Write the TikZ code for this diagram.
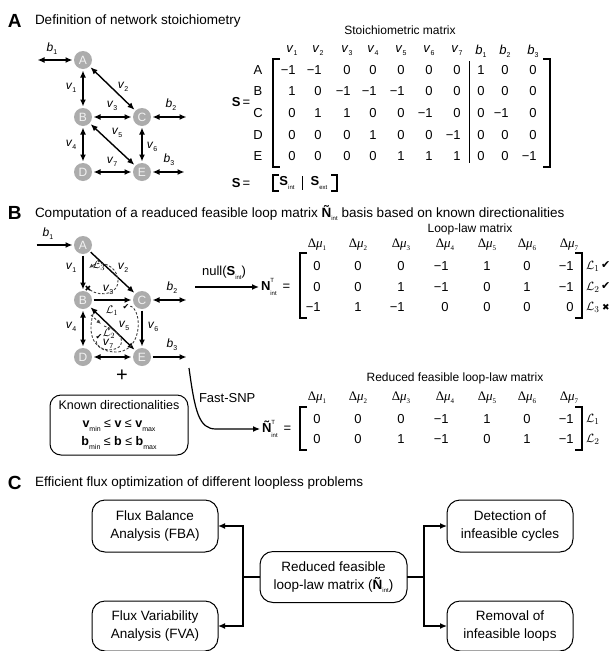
\documentclass[tikz,border=0pt]{standalone}
\usepackage{fontspec}
\setmainfont{Liberation Sans}
\newfontfamily\serifff{Liberation Serif}
\newfontfamily\dejavu{DejaVu Sans}
\usetikzlibrary{arrows.meta}
\newcommand\fs[1]{\fontsize{#1}{#1}\selectfont}
\newcommand\ssub[1]{\raisebox{-0.45ex}{\fs{7}#1}}
\newcommand\vv[1]{\textit{v}\ssub{#1}}
\newcommand\bb[1]{\textit{b}\ssub{#1}}
\newcommand\dmu[1]{{\serifff Δ\textit{μ}\raisebox{-0.45ex}{\fs{7}#1}}}
\newcommand\LL[1]{$\mathcal{L}_{#1}$}
\newcommand\TI{\makebox[0pt][l]{\raisebox{1.25ex}{\fs{6}T}}\raisebox{-0.7ex}{\fs{6}int}}
\newcommand\intsub{\raisebox{-0.5ex}{\fs{6}int}}
\newcommand\chk{{\dejavu ✔}}
\newcommand\crs{{\dejavu ✖}}
\begin{document}
\begin{tikzpicture}[x=1pt,y=-1pt,
  every node/.style={inner sep=0pt,outer sep=0pt},
  >={Latex[length=7pt,width=6pt]},
  edge/.style={line width=1.4pt,shorten >=1.5pt,shorten <=1.5pt},
  met/.style={circle,fill=gray!65,text=gray!10,minimum size=18pt,font=\fs{12}},
  lab/.style={font=\fs{12}},
  num/.style={font=\fs{13}},
  hdr/.style={font=\fs{13}},
  ttl/.style={font=\fs{13.5},anchor=west},
  letter/.style={font=\bfseries\fs{19},anchor=west},
  brk/.style={line width=1.3pt},
  loopd/.style={line width=0.9pt,dash pattern=on 2.5pt off 1.8pt,black!75},
  cbox/.style={draw,line width=1pt,rounded corners=13pt,minimum width=126pt,minimum height=52pt,align=center,font=\fontsize{13.5}{18}\selectfont},
  conn/.style={line width=1.3pt}]
\fill[white] (0,0) rectangle (613,651);
\useasboundingbox (0,0) rectangle (613,651);

% ---------------- Panel A ----------------
\node[letter] (lA) at (8,21) {A};
\node[ttl] (tA) at (35,21) {Definition of network stoichiometry};

\node[met] (aA) at (83,60) {A};
\node[met] (aB) at (83,117) {B};
\node[met] (aC) at (142,117) {C};
\node[met] (aD) at (83,172) {D};
\node[met] (aE) at (142,172) {E};
\coordinate (ab1) at (36,60);
\coordinate (ab2) at (188,117);
\coordinate (ab3) at (186,172);
\draw[edge,<->] (ab1) -- (aA);
\draw[edge,<->] (aA) -- (aB);
\draw[edge,<->] (aA) -- (aC);
\draw[edge,<->] (aB) -- (aC);
\draw[edge,<->] (aC) -- (ab2);
\draw[edge,<->] (aB) -- (aD);
\draw[edge,<->] (aB) -- (aE);
\draw[edge,<->] (aC) -- (aE);
\draw[edge,<->] (aD) -- (aE);
\draw[edge,<->] (aE) -- (ab3);
\node[lab] (lab1) at (52,49) {\bb1};
\node[lab] (lav1) at (71,88) {\vv1};
\node[lab] (lav2) at (123,87) {\vv2};
\node[lab] (lav3) at (112,106) {\vv3};
\node[lab] (lab2) at (171,105) {\bb2};
\node[lab] (lav4) at (71,145) {\vv4};
\node[lab] (lav5) at (117,133) {\vv5};
\node[lab] (lav6) at (152,147) {\vv6};
\node[lab] (lav7) at (112,162) {\vv7};
\node[lab] (lab3) at (169,160) {\bb3};

\node[font=\fs{12}] (stt) at (400,30) {Stoichiometric matrix};
\foreach \t [count=\j] in {\vv1,\vv2,\vv3,\vv4,\vv5,\vv6,\vv7,\bb1,\bb2,\bb3}{
  \pgfmathsetmacro\xx{{292,318,347,373,401,429,457,481,505,533}[\j-1]}
  \node[hdr] (sh-\j) at (\xx,51) {\t};
}
\foreach \t [count=\i] in {A,B,C,D,E}{
  \pgfmathsetmacro\yy{{70,91,113,135,156}[\i-1]}
  \node[num] (sr-\i) at (258,\yy) {\t};
}
\foreach \rw [count=\i] in {{−1,−1,0,0,0,0,0,1,0,0},{1,0,−1,−1,−1,0,0,0,0,0},{0,1,1,0,0,−1,0,0,−1,0},{0,0,0,1,0,0,−1,0,0,0},{0,0,0,0,1,1,1,0,0,−1}}{
  \pgfmathsetmacro\yy{{70,91,113,135,156}[\i-1]}
  \foreach \v [count=\j] in \rw {
    \pgfmathsetmacro\xx{{292,318,347,373,401,429,457,481,505,533}[\j-1]}
    \node[num,anchor=east] (sa-\i-\j) at (\xx+3.6,\yy) {\v};
  }
}
\draw[brk] (280,59) -- (273,59) -- (273,167) -- (280,167);
\draw[brk] (543,59) -- (550,59) -- (550,167) -- (543,167);
\draw[line width=1pt] (469,61) -- (469,163);
\node[font=\fs{13}] (seq) at (241,102) {\textbf{S}\,=};
\node[font=\fs{13}] (seq2) at (241,183) {\textbf{S}\,=};
\draw[brk] (279,175) -- (273,175) -- (273,191) -- (279,191);
\draw[brk] (331,175) -- (337,175) -- (337,191) -- (331,191);
\draw[line width=0.8pt] (302,176) -- (302,190);
\node[font=\fs{13}] (sint) at (287,183) {\textbf{S}\intsub};
\node[font=\fs{13}] (sext) at (319,183) {\textbf{S}\raisebox{-0.5ex}{\fs{6}ext}};

% ---------------- Panel B ----------------
\node[letter] (lB) at (8,213) {B};
\node[ttl] (tB) at (35,213) {Computation of a readuced feasible loop matrix \textbf{Ñ}\intsub\ basis based on known directionalities};

\node[met] (bA) at (83,245) {A};
\node[met] (bB) at (83,300) {B};
\node[met] (bC) at (142,300) {C};
\node[met] (bD) at (83,357) {D};
\node[met] (bE) at (142,357) {E};
\coordinate (bb1) at (35,245);
\coordinate (bb2) at (188,300);
\coordinate (bb3) at (188,357);
\draw[edge,->] (bb1) -- (bA);
\draw[edge,->] (bA) -- (bB);
\draw[edge,->] (bA) -- (bC);
\draw[edge,->] (bB) -- (bC);
\draw[edge,<->] (bC) -- (bb2);
\draw[edge,<->] (bB) -- (bD);
\draw[edge,<->] (bB) -- (bE);
\draw[edge,->] (bC) -- (bE);
\draw[edge,<->] (bD) -- (bE);
\draw[edge,->] (bE) -- (bb3);
\node[lab] (lbb1) at (48,234) {\bb1};
\node[lab] (lbv1) at (71,268) {\vv1};
\node[lab] (lbv2) at (123,268) {\vv2};
\node[lab] (lbv3) at (108,290) {\vv3};
\node[lab] (lbb2) at (172,288) {\bb2};
\node[lab] (lbv4) at (71,327) {\vv4};
\node[lab] (lbv5) at (124,326) {\vv5};
\node[lab] (lbv6) at (153,327) {\vv6};
\node[lab] (lbv7) at (108,344) {\vv7};
\node[lab] (lbb3) at (172,345) {\bb3};
% loops
\draw[loopd,-{Latex[length=4.5pt,width=4pt]}] (90,290) .. controls (102,298) and (120,293) .. (118,279) .. controls (116,265) and (100,260) .. (89,268);
\node[font=\fs{8}] (x3) at (88,289) {\crs};
\node[font=\fs{11}] (L3) at (99,266) {\LL3};
\draw[loopd] (93,314) .. controls (86,340) and (98,352) .. (116,352) .. controls (136,352) and (141,328) .. (137,315) .. controls (135,308) and (132,306) .. (129,306);
\node[font=\fs{8}] (c1) at (126,307) {\chk};
\node[font=\fs{11}] (L1) at (112,311) {\LL1};
\draw[loopd,-{Latex[length=4.5pt,width=4pt]}] (91,315) -- (101,324);
\draw[loopd] (104,326) .. controls (118,330) and (126,340) .. (119,347) .. controls (110,353) and (97,349) .. (96,341);
\node[font=\fs{8}] (c2) at (99,337) {\chk};
\node[font=\fs{11}] (L2) at (109,334) {\LL2};
\node[font=\fs{20}] (plus) at (122,376) {+};

\node[draw,line width=1pt,rounded corners=11pt,minimum width=138pt,minimum height=60pt,align=center,font=\fontsize{12.5}{18}\selectfont] (known) at (119,425)
  {Known directionalities\\ \textbf{v}\raisebox{-0.5ex}{\fs{7}min} ≤ \textbf{v} ≤ \textbf{v}\raisebox{-0.5ex}{\fs{7}max}\\ \textbf{b}\raisebox{-0.5ex}{\fs{7}min} ≤ \textbf{b} ≤ \textbf{b}\raisebox{-0.5ex}{\fs{7}max}};

% null arrow and N
\coordinate (ns) at (195,287);
\node[font=\fs{13},anchor=west] (nT) at (261,287) {\textbf{N}\TI\hspace{6pt}=};
\draw[line width=1.3pt,->,shorten >=2pt] (ns) -- (nT.west);
\node[font=\fs{13}] (nulll) at (224,273) {null(\textbf{S}\intsub)};
\node[font=\fs{12}] (llt) at (470,229) {Loop-law matrix};
\foreach \j in {1,...,7}{
  \pgfmathsetmacro\xx{{317,358,401,445,487,527,569}[\j-1]}
  \node[hdr] (nh-\j) at (\xx,245) {\dmu{\j}};
  \node[hdr] (rh-\j) at (\xx,398) {\dmu{\j}};
}
\foreach \rw [count=\i] in {{0,0,0,−1,1,0,−1},{0,0,1,−1,0,1,−1},{−1,1,−1,0,0,0,0}}{
  \pgfmathsetmacro\yy{{266,287,307}[\i-1]}
  \foreach \v [count=\j] in \rw {
    \pgfmathsetmacro\xx{{317,358,401,445,487,527,570}[\j-1]}
    \node[num,anchor=east] (na-\i-\j) at (\xx+3.6,\yy) {\v};
  }
}
\draw[brk] (307,253) -- (300,253) -- (300,318) -- (307,318);
\draw[brk] (575,253) -- (582,253) -- (582,318) -- (575,318);
\node[font=\fs{13},anchor=west] (nl1) at (586,266) {\LL1};
\node[font=\fs{13},anchor=west] (nl2) at (586,287) {\LL2};
\node[font=\fs{13},anchor=west] (nl3) at (586,307) {\LL3};
\node[font=\fs{11},anchor=west] (nc1) at (601,265) {\chk};
\node[font=\fs{11},anchor=west] (nc2) at (601,286) {\chk};
\node[font=\fs{9},anchor=west] (nc3) at (602,307) {\crs};

% reduced matrix
\node[font=\fs{12}] (rlt) at (455,378) {Reduced feasible loop-law matrix};
\node[font=\fs{13},anchor=west] (nt) at (262,429) {\textbf{Ñ}\TI\hspace{6pt}=};
\coordinate (fs) at (189,368);
\draw[line width=1.2pt,->,shorten >=2pt] (fs) .. controls (195,412) and (199,429) .. (216,429) -- (nt.west);
\node[font=\fs{13},anchor=west] (fsl) at (199,398) {Fast-SNP};
\foreach \rw [count=\i] in {{0,0,0,−1,1,0,−1},{0,0,1,−1,0,1,−1}}{
  \pgfmathsetmacro\yy{{419,439}[\i-1]}
  \foreach \v [count=\j] in \rw {
    \pgfmathsetmacro\xx{{317,358,401,445,487,527,570}[\j-1]}
    \node[num,anchor=east] (ra-\i-\j) at (\xx+3.6,\yy) {\v};
  }
}
\draw[brk] (307,407) -- (300,407) -- (300,450) -- (307,450);
\draw[brk] (575,407) -- (582,407) -- (582,450) -- (575,450);
\node[font=\fs{13},anchor=west] (rl1) at (586,419) {\LL1};
\node[font=\fs{13},anchor=west] (rl2) at (586,439) {\LL2};

% ---------------- Panel C ----------------
\node[letter] (lC) at (8,483) {C};
\node[ttl] (tC) at (35,483) {Efficient flux optimization of different loopless problems};
\node[cbox] (fba) at (155,526) {Flux Balance\\Analysis (FBA)};
\node[cbox,minimum height=50pt] (fva) at (155,626) {Flux Variability\\Analysis (FVA)};
\node[cbox,minimum width=147pt,minimum height=51pt] (ctr) at (333.5,577) {Reduced feasible\\loop-law matrix (\textbf{Ñ}\intsub)};
\node[cbox] (det) at (510,526) {Detection of\\infeasible cycles};
\node[cbox,minimum height=50pt] (rem) at (510,626) {Removal of\\infeasible loops};
\coordinate (jl) at (243,577);
\coordinate (jr) at (424,577);
\draw[conn] (ctr.west) -- (jl);
\draw[conn,->] (jl) |- (fba.east);
\draw[conn,->] (jl) |- (fva.east);
\draw[conn] (ctr.east) -- (jr);
\draw[conn,->] (jr) |- (det.west);
\draw[conn,->] (jr) |- (rem.west);
\end{tikzpicture}
\end{document}
